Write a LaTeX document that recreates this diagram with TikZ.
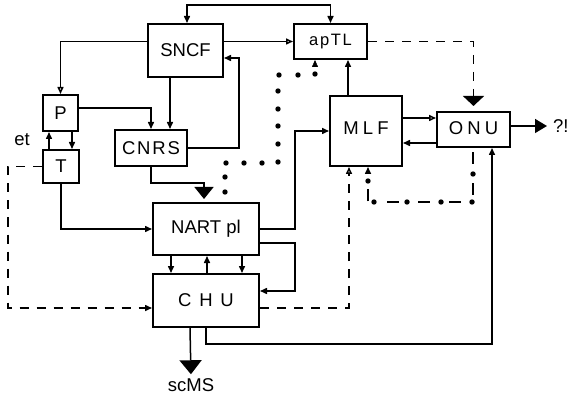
\documentclass[tikz,border=0pt]{standalone}
\usepackage{fontspec}
\setmainfont{Liberation Sans}
\newfontfamily\spA[LetterSpace=10]{Liberation Sans}
\newfontfamily\spB[LetterSpace=22]{Liberation Sans}
\newfontfamily\spC[LetterSpace=42]{Liberation Sans}
\usetikzlibrary{arrows.meta,decorations.markings}
\pgfkeys{/pgf/decoration/dot at/.style={mark=at position #1 with {\fill (0,0) circle (2.7pt);}}}
\begin{document}
\begin{tikzpicture}[x=1pt,y=-1pt,
  box/.style={draw, line width=2pt, inner sep=0pt, font=\fontsize{18.5}{20}\selectfont},
  lbl/.style={inner sep=0pt, font=\fontsize{18.5}{20}\selectfont},
  ln/.style={line width=1.5pt},
  fa/.style={ln,-{Triangle[length=7pt,width=6pt]}},
  fab/.style={ln,{Triangle[length=7pt,width=6pt]}-{Triangle[length=7pt,width=6pt]}},
  oa/.style={ln,-{Triangle[open,length=7pt,width=6pt]}},
  dsh/.style={dash pattern=on 9pt off 8pt},
]
\useasboundingbox (0,0) rectangle (572,395);
% boxes
\node[box, minimum width=75pt, minimum height=53pt] (SNCF) at (185.5,50.5) {SNCF};
\node[box, minimum width=73pt, minimum height=35pt, font=\fontsize{16.5}{18}\spA] (apTL) at (330.5,41.5) {apTL};
\node[box, minimum width=35pt, minimum height=36pt] (P) at (60.5,113) {P};
\node[box, minimum width=36pt, minimum height=33pt] (T) at (61,166.5) {T};
\node[box, minimum width=72pt, minimum height=36pt, font=\fontsize{18.5}{20}\spA] (CNRS) at (151,148) {CNRS};
\node[box, minimum width=72pt, minimum height=70pt, text depth=6pt, font=\fontsize{18.5}{20}\spB] (MLF) at (366,131) {MLF};
\node[box, minimum width=73pt, minimum height=35pt, text depth=3pt, font=\fontsize{18.5}{20}\spB] (ONU) at (473.5,129.5) {ONU};
\node[box, minimum width=106pt, minimum height=52pt] (NART) at (206,229) {NART pl};
\node[box, minimum width=106pt, minimum height=53pt, font=\fontsize{18.5}{20}\spC] (CHU) at (206,300.5) {CHU};
\node[lbl] (et) at (22,140) {et};
\node[lbl, anchor=west] (Q) at (553,126) {?!};
\node[lbl] (scMS) at (191,385) {scMS};
% helper coordinates
\coordinate (t1) at (187,5);
\coordinate (x170) at (170,0);
\coordinate (y108) at (0,108);
\coordinate (k239) at (239,58);
\coordinate (x49) at (49,0);
\coordinate (x72) at (72,0);
\coordinate (d1) at (8,308);
\coordinate (m1) at (204,183);
\coordinate (q0) at (225,0);
\coordinate (q1) at (225,163);
\coordinate (q2) at (278,163);
\coordinate (q3) at (278,75);
\coordinate (q4) at (315,75);
\coordinate (x348) at (348,0);
\coordinate (y118) at (0,118);
\coordinate (y143) at (0,143);
\coordinate (x295) at (295,0);
\coordinate (y243) at (0,243);
\coordinate (k295) at (295,291);
\coordinate (x171) at (171,0);
\coordinate (x207) at (207,0);
\coordinate (x242) at (242,0);
\coordinate (d308) at (0,308);
\coordinate (x349) at (349,0);
\coordinate (e1) at (473,202);
\coordinate (e2) at (368,202);
\coordinate (k492) at (492,344);
\coordinate (x190) at (190,0);
% connectors
\draw[fab] (SNCF.north -| t1) -- (t1) -| (apTL.north);
\draw[oa] (SNCF.east |- apTL.west) -- (apTL.west);
\draw[oa] (SNCF.west |- apTL.west) -| (P.north);
\draw[fa] (SNCF.south -| x170) -- (CNRS.north -| x170);
\draw[fa] (P.east |- y108) -| (CNRS.north);
\draw[fa] (CNRS.east) -| (k239) -- (SNCF.east |- k239);
\draw[fa] (T.north -| x49) -- (P.south -| x49);
\draw[fa] (P.south -| x72) -- (T.north -| x72);
\draw[fa,dsh] (T.west) -| (d1) -- (CHU.west |- d1);
\draw[fa] (T.south) |- (NART.west);
\draw[ln, -{Triangle[length=12pt,width=19pt]}, shorten >=3pt] (CNRS.south) |- (m1) -- (NART.north -| m1);
\path[postaction={decorate}, decoration={markings,
   dot at=10pt, dot at=25pt, dot at=40pt, dot at=58pt, dot at=76pt, dot at=93pt,
   dot at=111pt, dot at=129pt, dot at=146pt, dot at=164pt, dot at=181pt, dot at=200pt, dot at=218pt,
   mark=at position 1 with {\arrow{Triangle[length=7pt,width=6pt]}}}]
  (NART.north -| q0) -- (q1) -- (q2) -- (q3) -- (q4) -- (apTL.south -| q4);
\draw[fa] (MLF.north -| x348) -- (apTL.south -| x348);
\draw[ln, -{Triangle[length=10pt,width=21pt]}, dsh, shorten >=5pt] (apTL.east) -| (ONU.north);
\draw[oa] (MLF.east |- y118) -- (ONU.west |- y118);
\draw[fa] (ONU.west |- y143) -- (MLF.east |- y143);
\draw[ln, -{Triangle[length=12pt,width=14pt]}, shorten >=6pt] (ONU.east |- Q.west) -- (Q.west);
\draw[fa] (NART.east) -- (NART.east -| x295) |- (MLF.west);
\draw[fa] (NART.east |- y243) -| (k295) -- (CHU.east |- k295);
\draw[fa] (NART.south -| x171) -- (CHU.north -| x171);
\draw[fa] (CHU.north -| x207) -- (NART.south -| x207);
\draw[fa] (NART.south -| x242) -- (CHU.north -| x242);
\draw[oa, dsh] (CHU.east |- d308) -| (MLF.south -| x349);
\draw[fa, dash pattern=on 12pt off 19pt, dash phase=26.5pt, postaction={decorate},
   decoration={markings, dot at=26pt, dot at=55pt, dot at=86pt, dot at=120pt, dot at=153pt, dot at=180pt}]
  (ONU.south -| e1) -- (e1) -- (e2) -- (MLF.south -| e2);
\draw[fa] (CHU.south) |- (k492) -- (ONU.south -| k492);
\draw[ln, -{Triangle[length=14pt,width=22pt]}, shorten >=4pt] (CHU.south -| x190) -- (scMS.north);
\end{tikzpicture}
\end{document}
